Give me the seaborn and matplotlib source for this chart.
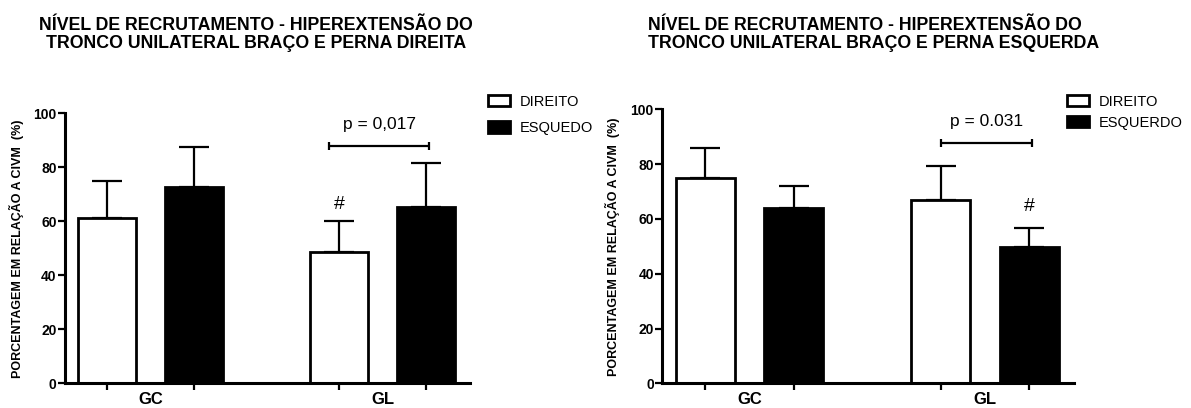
import numpy as np
import pandas as pd
import matplotlib
matplotlib.use("Agg")
import matplotlib.pyplot as plt
from matplotlib.container import BarContainer
import seaborn as sns

groups = ["GC", "GL"]
left_sides = ["DIREITO", "ESQUEDO"]
right_sides = ["DIREITO", "ESQUERDO"]

# medias e desvios (% CIVM)
left_dir_mean = [61.1, 48.5]
left_dir_sd = [13.8, 11.7]
left_esq_mean = [72.6, 65.4]
left_esq_sd = [14.9, 16.1]

right_dir_mean = [74.8, 66.9]
right_dir_sd = [11.2, 12.5]
right_esq_mean = [63.9, 49.6]
right_esq_sd = [8.1, 7.0]

left_title = "NÍVEL DE RECRUTAMENTO - HIPEREXTENSÃO DO\nTRONCO UNILATERAL BRAÇO E PERNA DIREITA"
right_title = "NÍVEL DE RECRUTAMENTO - HIPEREXTENSÃO DO\nTRONCO UNILATERAL BRAÇO E PERNA ESQUERDA"
ylabel = "PORCENTAGEM EM RELAÇÃO A CIVM  (%)"

left_p = "p = 0,017"
right_p = "p = 0.031"
left_bracket = (0.77, 1.20, 88.0)
right_bracket = (0.815, 1.197, 87.6)


def make_df(sides, dir_mean, esq_mean):
    df = pd.DataFrame({
        "Grupo": groups * 2,
        "Lado": [sides[0]] * 2 + [sides[1]] * 2,
        "Media": dir_mean + esq_mean,
    })
    return df


def draw_panel(fig, ax, sides, means, sds, bracket, ptext, hash_idx, hash_off, leg_xy, leg_sp):
    df = make_df(sides, means[0], means[1])
    sns.barplot(data=df, x="Grupo", y="Media", hue="Lado", order=groups, hue_order=sides,
                palette=["white", "black"], saturation=1, edgecolor="black", linewidth=2,
                width=0.75, gap=0.33, errorbar=None, ax=ax)

    bars = [c for c in ax.containers if isinstance(c, BarContainer)]
    centers = []
    for i, cont in enumerate(bars):
        xs = [b.get_x() + b.get_width() / 2 for b in cont]
        centers += xs
        ax.errorbar(xs, means[i], yerr=[np.zeros(len(xs)), sds[i]], fmt="none",
                    ecolor="black", elinewidth=1.6, capsize=11, capthick=1.6, zorder=0.8)
        if hash_idx[0] == i:
            j = hash_idx[1]
            ax.text(xs[j], means[i][j] + sds[i][j] + hash_off, "#", ha="center",
                    va="center", fontsize=14)

    x1, x2, yb = bracket
    ax.errorbar((x1 + x2) / 2, yb, xerr=(x2 - x1) / 2, fmt="none", ecolor="black",
                elinewidth=1.6, capsize=3, capthick=1.6)
    ax.text((x1 + x2) / 2, yb + 8, ptext, ha="center", va="center", fontsize=12.5)

    ax.set_xlim(-0.37, 1.377)
    ax.set_ylim(0, 100)
    ax.set_yticks([0, 20, 40, 60, 80, 100])
    ax.set_xticks([0, 1])
    ax.set_xticklabels(groups, fontsize=12, fontweight="bold")
    ax.set_xticks(sorted(centers), minor=True)
    ax.tick_params(axis="x", which="major", length=0, pad=6)
    ax.tick_params(axis="x", which="minor", length=5, width=1.6, direction="out")
    ax.tick_params(axis="y", length=5, width=1.6, pad=1, labelsize=10)
    for lab in ax.get_yticklabels():
        lab.set_fontweight("bold")
    ax.set_xlabel("")
    ax.set_ylabel(ylabel, fontsize=9, fontweight="bold")
    ax.yaxis.set_label_coords(-0.102, 0.5)
    sns.despine(ax=ax)
    for s in ["left", "bottom"]:
        ax.spines[s].set_linewidth(2.2)

    handles, labels = ax.get_legend_handles_labels()
    ax.legend(handles[:2], labels[:2], loc="upper left", bbox_to_anchor=leg_xy,
              bbox_transform=fig.transFigure, frameon=False, fontsize=10.5,
              handlelength=1.5, handleheight=0.8, handletextpad=0.7,
              labelspacing=leg_sp, borderpad=0, borderaxespad=0)


sns.set_style("ticks", {"axes.edgecolor": "black", "text.color": "black",
                        "axes.labelcolor": "black", "xtick.color": "black",
                        "ytick.color": "black"})
plt.rcParams["font.family"] = ["Liberation Sans", "DejaVu Sans"]

fig = plt.figure(figsize=(11.91, 4.08), dpi=100)
ax1 = fig.add_axes([0.0546, 0.0605, 0.340, 0.662])
ax2 = fig.add_axes([0.556, 0.0605, 0.3457, 0.6716])

draw_panel(fig, ax1, left_sides, [left_dir_mean, left_esq_mean], [left_dir_sd, left_esq_sd],
           left_bracket, left_p, (0, 1), 6, (0.4097, 0.768), 0.85)
draw_panel(fig, ax2, right_sides, [right_dir_mean, right_esq_mean], [right_dir_sd, right_esq_sd],
           right_bracket, right_p, (1, 1), 8, (0.8956, 0.768), 0.5)

fig.text(0.215, 1 - 17 / 408, left_title, ha="center", va="top", fontsize=12.8,
         fontweight="bold", linespacing=1.1, multialignment="center")
fig.text(0.5445, 1 - 17 / 408, right_title, ha="left", va="top", fontsize=12.8,
         fontweight="bold", linespacing=1.1, multialignment="left")

fig.savefig("out.png", dpi=100)
